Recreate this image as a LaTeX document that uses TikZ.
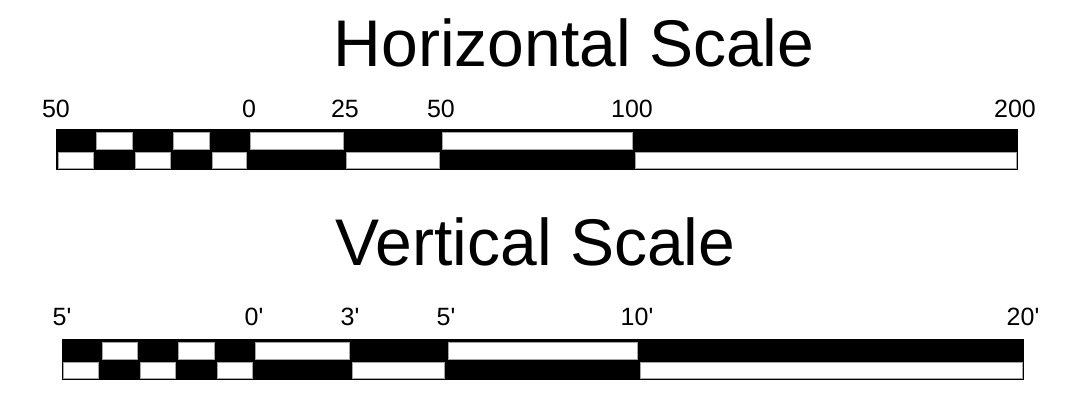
\documentclass[tikz,border=0pt]{standalone}
\usepackage{fontspec}
\setmainfont{Liberation Sans}
\newfontfamily\plainsans{Liberation Sans}
\newcommand\barcells{%
  \fill[black] (0,0) rectangle (962,41);
  \foreach \a/\b in {38.5/77, 115.4/154, 192.3/288.5, 384.6/577}
    \filldraw[whitecell] (\a+1.8,3) rectangle (\b-1.2,20);
  \foreach \a/\b in {0/38.5, 77/115.4, 154/192.3, 288.5/384.6, 577/962}
    \filldraw[whitecell] (\a+1.8,23) rectangle (\b-1.6,39);
}
\begin{document}
\begin{tikzpicture}[x=1pt,y=-1pt,
  whitecell/.style={fill=white,draw=gray!70,line width=0.5pt},
  title/.style={anchor=base,inner sep=0pt,font=\plainsans\fontsize{66}{72}\selectfont},
  lbl/.style={anchor=base,inner sep=0pt,font=\plainsans\fontsize{25}{28}\selectfont}]
\useasboundingbox[fill=white] (0,0) rectangle (1072,394);
% Horizontal scale
\node[title] (htitle) at (574,66.7) {Horizontal Scale};
\begin{scope}[shift={(56,129)}]
  \barcells
\end{scope}
\node[lbl] (h1) at (56,117.7) {50};
\node[lbl] (h2) at (249,117.7) {0};
\node[lbl] (h3) at (345,117.7) {25};
\node[lbl] (h4) at (441,117.7) {50};
\node[lbl] (h5) at (632,117.7) {100};
\node[lbl] (h6) at (1015,117.7) {200};
% Vertical scale
\node[title] (vtitle) at (535.5,265) {Vertical Scale};
\begin{scope}[shift={(61.5,339)}]
  \barcells
\end{scope}
\node[lbl] (v1) at (62,325) {5'};
\node[lbl] (v2) at (254,325) {0'};
\node[lbl] (v3) at (350,325) {3'};
\node[lbl] (v4) at (446,325) {5'};
\node[lbl] (v5) at (637,325) {10'};
\node[lbl] (v6) at (1023,325) {20'};
\end{tikzpicture}
\end{document}
